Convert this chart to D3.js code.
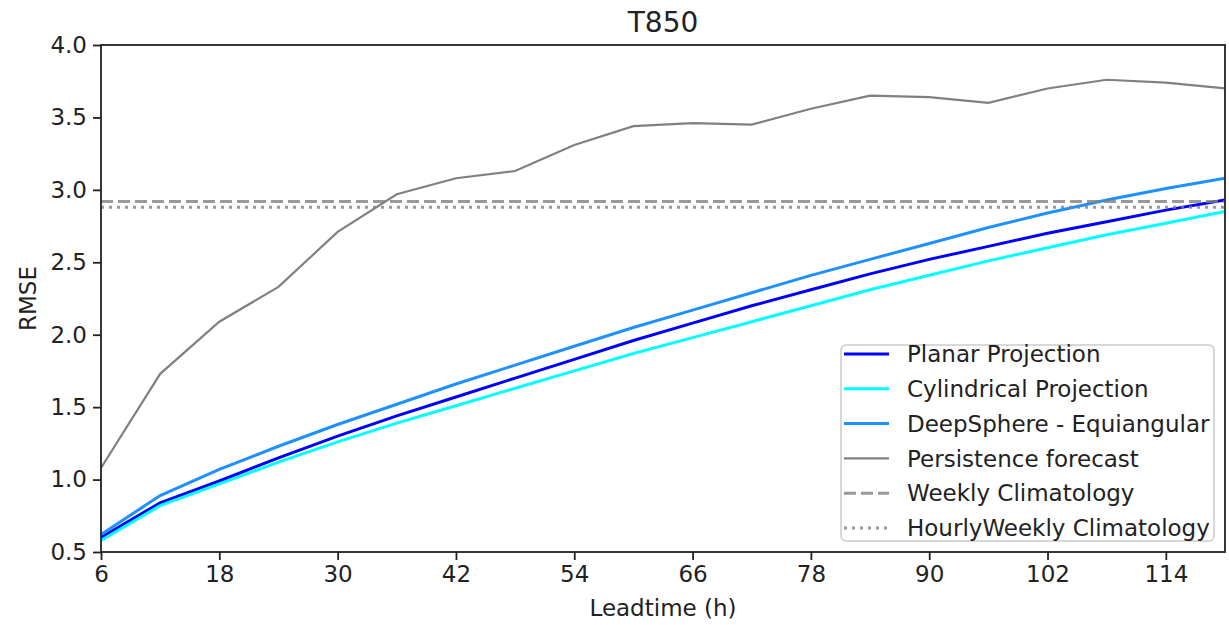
<!DOCTYPE html>
<html>
<head>
<meta charset="utf-8">
<script src="https://cdn.jsdelivr.net/npm/d3@7"></script>
<style>
  body { margin: 0; background: #fff; }
  svg { display: block; font-family: "DejaVu Sans", sans-serif; }
  .axis path, .axis line { stroke: #222; stroke-width: 1.8px; }
  .axis text { fill: #222; font-size: 23px; font-family: "DejaVu Sans", sans-serif; }
</style>
</head>
<body>
<div id="chart"></div>
<script>
// leadtimes (h)
const leadtimes = [6, 12, 18, 24, 30, 36, 42, 48, 54, 60, 66, 72, 78, 84, 90, 96, 102, 108, 114, 120];

const planar = [0.60, 0.84, 0.99, 1.15, 1.30, 1.44, 1.57, 1.70, 1.83, 1.96, 2.08, 2.20, 2.31, 2.42, 2.52, 2.61, 2.70, 2.78, 2.86, 2.93];
const cylindrical = [0.58, 0.82, 0.97, 1.12, 1.26, 1.39, 1.51, 1.63, 1.75, 1.87, 1.98, 2.09, 2.20, 2.31, 2.41, 2.51, 2.60, 2.69, 2.77, 2.85];
const deepsphere = [0.62, 0.89, 1.07, 1.23, 1.38, 1.52, 1.66, 1.79, 1.92, 2.05, 2.17, 2.29, 2.41, 2.52, 2.63, 2.74, 2.84, 2.93, 3.01, 3.08];
const persistence = [1.08, 1.73, 2.09, 2.33, 2.71, 2.97, 3.08, 3.13, 3.31, 3.44, 3.46, 3.45, 3.56, 3.65, 3.64, 3.60, 3.70, 3.76, 3.74, 3.70];
const weeklyClim = 2.92;
const hourlyWeeklyClim = 2.88;

const xTicks = [6, 18, 30, 42, 54, 66, 78, 90, 102, 114];
const yTicks = [0.5, 1.0, 1.5, 2.0, 2.5, 3.0, 3.5, 4.0];

const width = 1229, height = 625;
const margin = { top: 45, right: 4, bottom: 73, left: 101 };
const innerW = width - margin.left - margin.right;
const innerH = height - margin.top - margin.bottom;

const svg = d3.select("#chart").append("svg")
    .attr("width", width)
    .attr("height", height);

const g = svg.append("g")
    .attr("transform", `translate(${margin.left},${margin.top})`);

const x = d3.scaleLinear().domain([6, 120]).range([0, innerW]);
const y = d3.scaleLinear().domain([0.5, 4.0]).range([innerH, 0]);

// series: label, values, colour, width, dash
const series = [
    { name: "Planar Projection", values: planar, color: "#0000ff", w: 3, dash: null },
    { name: "Cylindrical Projection", values: cylindrical, color: "#00ffff", w: 3, dash: null },
    { name: "DeepSphere - Equiangular", values: deepsphere, color: "#1e90ff", w: 3, dash: null },
    { name: "Persistence forecast", values: persistence, color: "#808080", w: 2.2, dash: null },
    { name: "Weekly Climatology", values: leadtimes.map(() => weeklyClim), color: "#808080", w: 3, dash: "12,5" },
    { name: "HourlyWeekly Climatology", values: leadtimes.map(() => hourlyWeeklyClim), color: "#808080", w: 3, dash: "3,5" }
];

const line = d3.line()
    .x((d, i) => x(leadtimes[i]))
    .y(d => y(d));

g.append("clipPath").attr("id", "clip")
    .append("rect").attr("width", innerW).attr("height", innerH);

const plot = g.append("g").attr("clip-path", "url(#clip)");

series.forEach(s => {
    plot.append("path")
        .datum(s.values)
        .attr("d", line)
        .attr("fill", "none")
        .attr("stroke", s.color)
        .attr("stroke-width", s.w)
        .attr("stroke-dasharray", s.dash)
        .attr("stroke-opacity", s.dash ? 0.8 : 1);
});

// axes
const xAxis = g.append("g")
    .attr("class", "axis")
    .attr("transform", `translate(0,${innerH})`)
    .call(d3.axisBottom(x).tickValues(xTicks).tickSize(8).tickPadding(6).tickFormat(d3.format("d")));

const yAxis = g.append("g")
    .attr("class", "axis")
    .call(d3.axisLeft(y).tickValues(yTicks).tickSize(8).tickPadding(6).tickFormat(d3.format(".1f")));

xAxis.select(".domain").remove();
yAxis.select(".domain").remove();

// frame
g.append("rect")
    .attr("width", innerW)
    .attr("height", innerH)
    .attr("fill", "none")
    .attr("stroke", "#222")
    .attr("stroke-width", 1.8);

// title and axis labels
svg.append("text")
    .attr("x", margin.left + innerW / 2)
    .attr("y", 32)
    .attr("text-anchor", "middle")
    .attr("font-size", 28)
    .attr("fill", "#222")
    .text("T850");

svg.append("text")
    .attr("x", margin.left + innerW / 2)
    .attr("y", 616)
    .attr("text-anchor", "middle")
    .attr("font-size", 23)
    .attr("fill", "#222")
    .text("Leadtime (h)");

svg.append("text")
    .attr("transform", `translate(36,${margin.top + innerH / 2}) rotate(-90)`)
    .attr("text-anchor", "middle")
    .attr("font-size", 23)
    .attr("fill", "#222")
    .text("RMSE");

// legend
const legend = svg.append("g").attr("transform", "translate(841,345)");
legend.append("rect")
    .attr("width", 373)
    .attr("height", 196)
    .attr("rx", 5)
    .attr("fill", "#fff")
    .attr("fill-opacity", 0.8)
    .attr("stroke", "#ccc")
    .attr("stroke-width", 1.5);

series.forEach((s, i) => {
    const row = legend.append("g").attr("transform", `translate(0,${9 + i * 34.8})`);
    row.append("line")
        .attr("x1", 3).attr("x2", 48)
        .attr("stroke", s.color)
        .attr("stroke-width", s.w)
        .attr("stroke-dasharray", s.dash)
        .attr("stroke-opacity", s.dash ? 0.8 : 1);
    row.append("text")
        .attr("x", 66)
        .attr("dy", "0.36em")
        .attr("font-size", 23)
        .attr("fill", "#222")
        .text(s.name);
});
</script>
</body>
</html>
